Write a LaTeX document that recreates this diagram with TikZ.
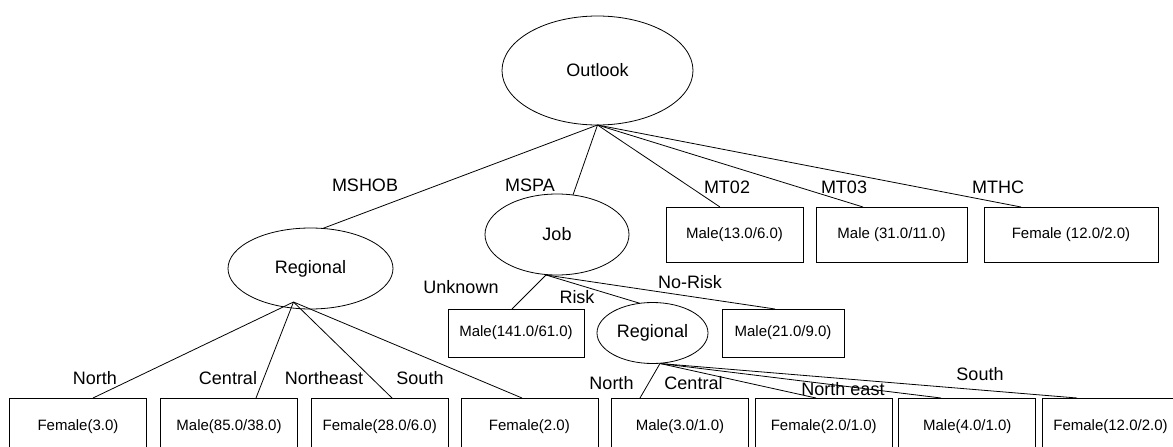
\documentclass[tikz,border=0pt]{standalone}
\usepackage{fontspec}
\setmainfont{Liberation Sans}
\usetikzlibrary{shapes.geometric}
\begin{document}
\begin{tikzpicture}[x=1pt,y=-1pt,line width=0.8pt,
 oval/.style={ellipse,draw,inner sep=0pt,outer sep=0pt,font=\fontsize{18}{21}\selectfont},
 leaf/.style={rectangle,draw,inner sep=0pt,outer sep=0pt,font=\fontsize{15}{18}\selectfont},
 topleaf/.style={leaf,minimum height=55pt},
 midleaf/.style={leaf,minimum height=48pt},
 botleaf/.style={leaf,minimum width=137pt,minimum height=58pt},
 lbl/.style={inner sep=0pt,font=\fontsize{18}{21}\selectfont},
 conn/.style={draw,line width=0.8pt}]
\useasboundingbox (0,0) rectangle (1173,447);
\clip (0,0) rectangle (1173,447);
% inner nodes
\node[oval,minimum width=191pt,minimum height=109pt] (out) at (597.5,70.5) {Outlook};
\node[oval,minimum width=165pt,minimum height=81pt] (reg1) at (310.5,268.5) {Regional};
\node[oval,minimum width=144pt,minimum height=81pt] (job) at (557,234.5) {Job};
\node[oval,minimum width=111pt,minimum height=61pt] (reg2) at (652.5,333) {Regional};
% leaves
\node[topleaf,minimum width=137pt] (mt02) at (734.5,234.5) {Male(13.0/6.0)};
\node[topleaf,minimum width=151pt] (mt03) at (891.5,234.5) {Male (31.0/11.0)};
\node[topleaf,minimum width=174pt] (mthc) at (1071,234.5) {Female (12.0/2.0)};
\node[midleaf,minimum width=136pt] (unk) at (516,333) {Male(141.0/61.0)};
\node[midleaf,minimum width=122pt] (nrk) at (783,333) {Male(21.0/9.0)};
\node[botleaf] (b1) at (78,427) {Female(3.0)};
\node[botleaf] (b2) at (229,427) {Male(85.0/38.0)};
\node[botleaf] (b3) at (379.7,427) {Female(28.0/6.0)};
\node[botleaf] (b4) at (529.4,427) {Female(2.0)};
\node[botleaf] (b5) at (680,427) {Male(3.0/1.0)};
\node[botleaf] (b6) at (823.7,427) {Female(2.0/1.0)};
\node[botleaf] (b7) at (967.3,427) {Male(4.0/1.0)};
\node[botleaf] (b8) at (1110.5,427) {Female(12.0/2.0)};
% apex coordinates
\coordinate (oa) at (out.south);
\coordinate (ja) at ([xshift=-11pt]job.south);
\coordinate (r1a) at ([xshift=-17pt,yshift=7pt]reg1.south);
\coordinate (r2a) at ([xshift=7.5pt]reg2.south);
% connectors
\draw[conn] (oa) -- (reg1.73);
\draw[conn] (oa) -- (job.68);
\draw[conn] (oa) -- ([xshift=-14.5pt]mt02.north);
\draw[conn] (oa) -- ([xshift=-28.5pt]mt03.north);
\draw[conn] (oa) -- ([xshift=-50pt]mthc.north);
\draw[conn] (ja) -- ([xshift=-4pt]unk.north);
\draw[conn] (ja) -- (reg2.113);
\draw[conn] (ja) -- ([xshift=-8pt]nrk.north);
\draw[conn] (r1a) -- ([xshift=15pt]b1.north);
\draw[conn] (r1a) -- ([xshift=27pt]b2.north);
\draw[conn] (r1a) -- ([xshift=12.3pt]b3.north);
\draw[conn] (r1a) -- ([xshift=-7.4pt]b4.north);
\draw[conn] (r2a) -- ([xshift=-40pt]b5.north);
\draw[conn] (r2a) -- ([xshift=-7.7pt]b6.north);
\draw[conn] (r2a) -- ([xshift=-26.3pt]b7.north);
\draw[conn] (r2a) -- ([xshift=-33.5pt]b8.north);
% labels
\node[lbl] (lmshob) at (365,185) {MSHOB};
\node[lbl] (lmspa) at (530,185) {MSPA};
\node[lbl] (lmt02) at (727,187) {MT02};
\node[lbl] (lmt03) at (844,187) {MT03};
\node[lbl] (lmthc) at (998,187) {MTHC};
\node[lbl] (lunk) at (461,287) {Unknown};
\node[lbl] (lrisk) at (577,297) {Risk};
\node[lbl] (lnrk) at (690,282) {No-Risk};
\node[lbl] (ln1) at (95,378) {North};
\node[lbl] (lc1) at (228,378) {Central};
\node[lbl] (lne1) at (324,378) {Northeast};
\node[lbl] (ls1) at (420,378) {South};
\node[lbl] (ln2) at (611.5,383) {North};
\node[lbl] (lc2) at (693.5,383) {Central};
\node[lbl] (lne2) at (843,389) {North east};
\node[lbl] (ls2) at (980,374) {South};
\end{tikzpicture}
\end{document}
